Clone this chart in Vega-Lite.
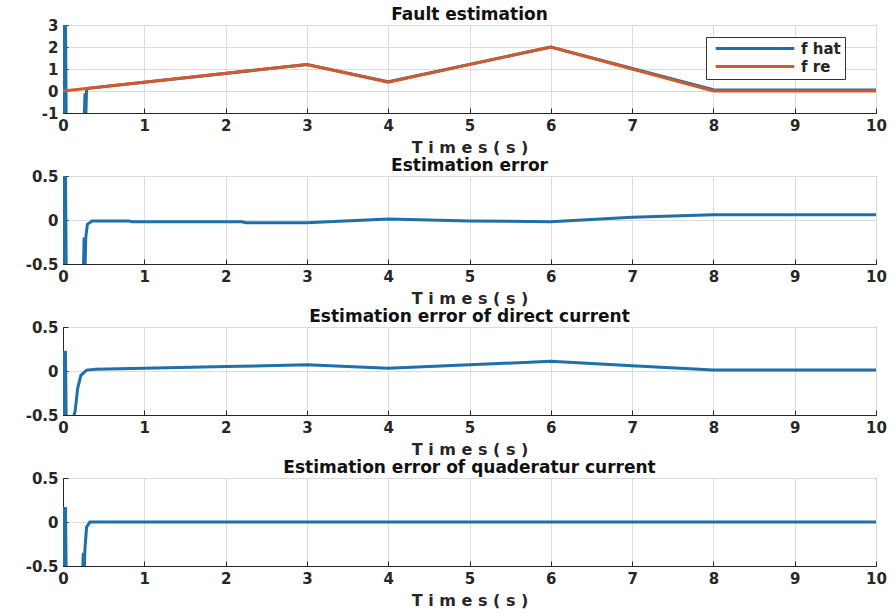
{
  "$schema": "https://vega.github.io/schema/vega-lite/v6.json",
  "padding": {"left": 17, "top": 5, "right": 10, "bottom": 0},
  "background": "white",
  "spacing": 0,
  "config": {
    "font": "DejaVu Sans",
    "view": {"stroke": "#262626", "strokeWidth": 1},
    "axis": {
      "labelFont": "DejaVu Sans", "labelFontWeight": "bold", "labelFontSize": 15, "labelColor": "#262626",
      "titleFont": "DejaVu Sans", "titleFontWeight": "bold", "titleFontSize": 16, "titleColor": "#262626",
      "domainColor": "#262626", "tickColor": "#262626", "gridColor": "#dcdcdc", "gridOpacity": 1,
      "tickSize": -5, "labelPadding": 10, "labelFlush": false, "labelExpr": "'' + datum.value"
    },
    "title": {"font": "DejaVu Sans", "fontWeight": "bold", "fontSize": 17, "color": "#111", "offset": -6},
    "legend": {"labelFont": "DejaVu Sans", "labelFontWeight": "bold", "labelFontSize": 15, "labelColor": "#262626"}
  },
  "datasets": {
    "fault": [
      {"t": 0.01, "v": 3.5, "s": "f hat"}, {"t": 0.02, "v": -1.5, "s": "f hat"}, {"t": 0.03, "v": 3.5, "s": "f hat"},
      {"t": 0.04, "v": -1.5, "s": "f hat"}, {"t": 0.26, "v": -1.5, "s": "f hat"}, {"t": 0.27, "v": -0.1, "s": "f hat"},
      {"t": 0.28, "v": -1.2, "s": "f hat"}, {"t": 0.29, "v": 0.05, "s": "f hat"},
      {"t": 0.31, "v": 0.12, "s": "f hat"}, {"t": 3, "v": 1.2, "s": "f hat"},
      {"t": 4, "v": 0.42, "s": "f hat"}, {"t": 6, "v": 2.0, "s": "f hat"}, {"t": 8, "v": 0.06, "s": "f hat"},
      {"t": 8.3, "v": 0.04, "s": "f hat"}, {"t": 10, "v": 0.04, "s": "f hat"},
      {"t": 0, "v": 0, "s": "f re"}, {"t": 3, "v": 1.2, "s": "f re"}, {"t": 4, "v": 0.4, "s": "f re"},
      {"t": 6, "v": 2.0, "s": "f re"}, {"t": 8, "v": 0, "s": "f re"}, {"t": 10, "v": 0, "s": "f re"}
    ],
    "err": [
      {"t": 0.01, "v": 0.6}, {"t": 0.02, "v": -0.6}, {"t": 0.03, "v": 0.6}, {"t": 0.04, "v": -0.6},
      {"t": 0.25, "v": -0.6}, {"t": 0.26, "v": -0.2}, {"t": 0.27, "v": -0.6}, {"t": 0.28, "v": -0.2},
      {"t": 0.3, "v": -0.05}, {"t": 0.36, "v": -0.01}, {"t": 0.8, "v": -0.01}, {"t": 0.85, "v": -0.02},
      {"t": 2.2, "v": -0.02}, {"t": 2.25, "v": -0.03}, {"t": 3, "v": -0.03}, {"t": 4, "v": 0.01},
      {"t": 5, "v": -0.01}, {"t": 6, "v": -0.02}, {"t": 7, "v": 0.03}, {"t": 8, "v": 0.06}, {"t": 10, "v": 0.06}
    ],
    "errd": [
      {"t": 0.01, "v": 0.23}, {"t": 0.02, "v": -0.6}, {"t": 0.03, "v": 0.23}, {"t": 0.04, "v": -0.6},
      {"t": 0.11, "v": -0.6}, {"t": 0.15, "v": -0.45},
      {"t": 0.18, "v": -0.2}, {"t": 0.22, "v": -0.05}, {"t": 0.29, "v": 0.01}, {"t": 0.4, "v": 0.02},
      {"t": 1, "v": 0.03}, {"t": 2, "v": 0.05}, {"t": 3, "v": 0.07}, {"t": 4, "v": 0.03},
      {"t": 5, "v": 0.07}, {"t": 6, "v": 0.11}, {"t": 7, "v": 0.06}, {"t": 8, "v": 0.01}, {"t": 10, "v": 0.01}
    ],
    "errq": [
      {"t": 0.01, "v": 0.17}, {"t": 0.02, "v": -0.6}, {"t": 0.03, "v": 0.17}, {"t": 0.04, "v": -0.6},
      {"t": 0.24, "v": -0.6}, {"t": 0.25, "v": -0.35}, {"t": 0.26, "v": -0.6}, {"t": 0.27, "v": -0.3},
      {"t": 0.29, "v": -0.06}, {"t": 0.33, "v": 0}, {"t": 10, "v": 0}
    ]
  },
  "vconcat": [
    {
      "title": "Fault estimation",
      "width": 813, "height": 88,
      "data": {"name": "fault"},
      "mark": {"type": "line", "strokeWidth": 3, "clip": true},
      "encoding": {
        "x": {"field": "t", "type": "quantitative", "scale": {"domain": [0, 10], "nice": false, "zero": false},
              "axis": {"values": [0,1,2,3,4,5,6,7,8,9,10], "title": "T i m e s ( s )", "titlePadding": 6}},
        "y": {"field": "v", "type": "quantitative", "scale": {"domain": [-1, 3], "nice": false},
              "axis": {"values": [-1,0,1,2,3], "title": null, "minExtent": 45, "maxExtent": 45}},
        "color": {"field": "s", "type": "nominal",
                  "scale": {"domain": ["f hat", "f re"], "range": ["#1f6fa8", "#d2592a"]},
                  "legend": {"title": null, "orient": "none", "legendX": 643, "legendY": 12, "symbolType": "M-0.3,0H12.8",
                             "symbolSize": 144, "symbolStrokeWidth": 3, "strokeColor": "#333",
                             "fillColor": "white", "padding": 4, "rowPadding": 2, "labelOffset": 76}}
      }
    },
    {
      "title": "Estimation error",
      "width": 813, "height": 88,
      "data": {"name": "err"},
      "mark": {"type": "line", "strokeWidth": 3, "clip": true, "color": "#1f6fa8"},
      "encoding": {
        "x": {"field": "t", "type": "quantitative", "scale": {"domain": [0, 10], "nice": false, "zero": false},
              "axis": {"values": [0,1,2,3,4,5,6,7,8,9,10], "title": "T i m e s ( s )", "titlePadding": 6}},
        "y": {"field": "v", "type": "quantitative", "scale": {"domain": [-0.5, 0.5], "nice": false},
              "axis": {"values": [-0.5, 0, 0.5], "title": null, "minExtent": 45, "maxExtent": 45}}
      }
    },
    {
      "title": "Estimation error of direct current",
      "width": 813, "height": 88,
      "data": {"name": "errd"},
      "mark": {"type": "line", "strokeWidth": 3, "clip": true, "color": "#1f6fa8"},
      "encoding": {
        "x": {"field": "t", "type": "quantitative", "scale": {"domain": [0, 10], "nice": false, "zero": false},
              "axis": {"values": [0,1,2,3,4,5,6,7,8,9,10], "title": "T i m e s ( s )", "titlePadding": 6}},
        "y": {"field": "v", "type": "quantitative", "scale": {"domain": [-0.5, 0.5], "nice": false},
              "axis": {"values": [-0.5, 0, 0.5], "title": null, "minExtent": 45, "maxExtent": 45}}
      }
    },
    {
      "title": "Estimation error of quaderatur current",
      "width": 813, "height": 88,
      "data": {"name": "errq"},
      "mark": {"type": "line", "strokeWidth": 3, "clip": true, "color": "#1f6fa8"},
      "encoding": {
        "x": {"field": "t", "type": "quantitative", "scale": {"domain": [0, 10], "nice": false, "zero": false},
              "axis": {"values": [0,1,2,3,4,5,6,7,8,9,10], "title": "T i m e s ( s )", "titlePadding": 6}},
        "y": {"field": "v", "type": "quantitative", "scale": {"domain": [-0.5, 0.5], "nice": false},
              "axis": {"values": [-0.5, 0, 0.5], "title": null, "minExtent": 45, "maxExtent": 45}}
      }
    }
  ],
  "resolve": {"scale": {"color": "independent"}, "legend": {"color": "independent"}}
}
